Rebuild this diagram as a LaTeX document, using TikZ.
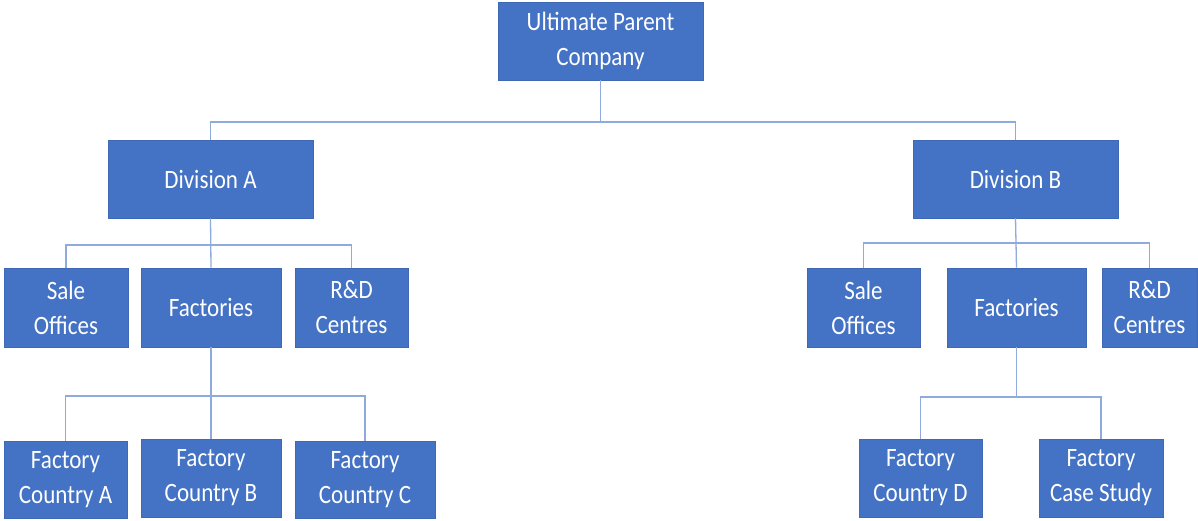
\documentclass[tikz,border=0pt]{standalone}
\usepackage{fontspec}
\setmainfont{Carlito}[FakeStretch=0.87]
\definecolor{boxblue}{HTML}{4472C4}
\definecolor{boxedge}{HTML}{3F68B5}
\definecolor{linkblue}{HTML}{8FAADC}
\begin{document}
\begin{tikzpicture}[x=1pt,y=-1pt,
  unit/.style={draw=boxedge, line width=0.8pt, fill=boxblue, text=white,
    align=center, inner sep=0pt, font=\fontsize{26.5}{35}\selectfont},
  link/.style={draw=linkblue, line width=1.3pt}]
\useasboundingbox (0,0) rectangle (1198,521);

% top level
\node[unit, minimum width=205pt, minimum height=78pt] (top) at (600.5,41) {Ultimate Parent\\Company};

% divisions
\node[unit, minimum width=205pt, minimum height=78pt] (divA) at (210.5,179) {Division A};
\node[unit, minimum width=205pt, minimum height=78pt] (divB) at (1015.5,179) {Division B};

% units of Division A
\node[unit, minimum width=124pt, minimum height=79pt] (saleA) at (66,307.5) {Sale\\Offices};
\node[unit, minimum width=140pt, minimum height=79pt] (factA) at (211,307.5) {Factories};
\node[unit, minimum width=113pt, minimum height=79pt] (rdA) at (351.5,307.5) {R\&D\\Centres};

% units of Division B
\node[unit, minimum width=113pt, minimum height=79pt] (saleB) at (863.5,307.5) {Sale\\Offices};
\node[unit, minimum width=139pt, minimum height=79pt] (factB) at (1016.5,307.5) {Factories};
\node[unit, minimum width=95pt, minimum height=79pt] (rdB) at (1149.5,307.5) {R\&D\\Centres};

% factories of Division A
\node[unit, minimum width=123pt, minimum height=77pt] (fcA) at (65.5,479.5) {Factory\\Country A};
\node[unit, minimum width=140pt, minimum height=78pt] (fcB) at (211,478) {Factory\\Country B};
\node[unit, minimum width=140pt, minimum height=77pt] (fcC) at (365,479.5) {Factory\\Country C};

% factories of Division B
\node[unit, minimum width=123pt, minimum height=78pt] (fcD) at (920.5,478) {Factory\\Country D};
\node[unit, minimum width=124pt, minimum height=78pt] (fcS) at (1101,478) {Factory\\Case Study};

% branching points
\coordinate (jTop) at (600.5,122);
\coordinate (jA) at (210.5,245);
\coordinate (jB) at (1015.5,243);
\coordinate (jFA) at (211,396);
\coordinate (jFB) at (1016.5,397);

% connectors
\draw[link] (top.south) -- (jTop);
\draw[link] (jTop) -| (divA.north);
\draw[link] (jTop) -| (divB.north);

\draw[link] (divA.south) -- (factA.north);
\draw[link] (jA) -| (saleA.north);
\draw[link] (jA) -| (rdA.north);

\draw[link] (divB.south) -- (factB.north);
\draw[link] (jB) -| (saleB.north);
\draw[link] (jB) -| (rdB.north);

\draw[link] (factA.south) -- (fcB.north);
\draw[link] (jFA) -| (fcA.north);
\draw[link] (jFA) -| (fcC.north);

\draw[link] (factB.south) -- (jFB);
\draw[link] (jFB) -| (fcD.north);
\draw[link] (jFB) -| (fcS.north);
\end{tikzpicture}
\end{document}
